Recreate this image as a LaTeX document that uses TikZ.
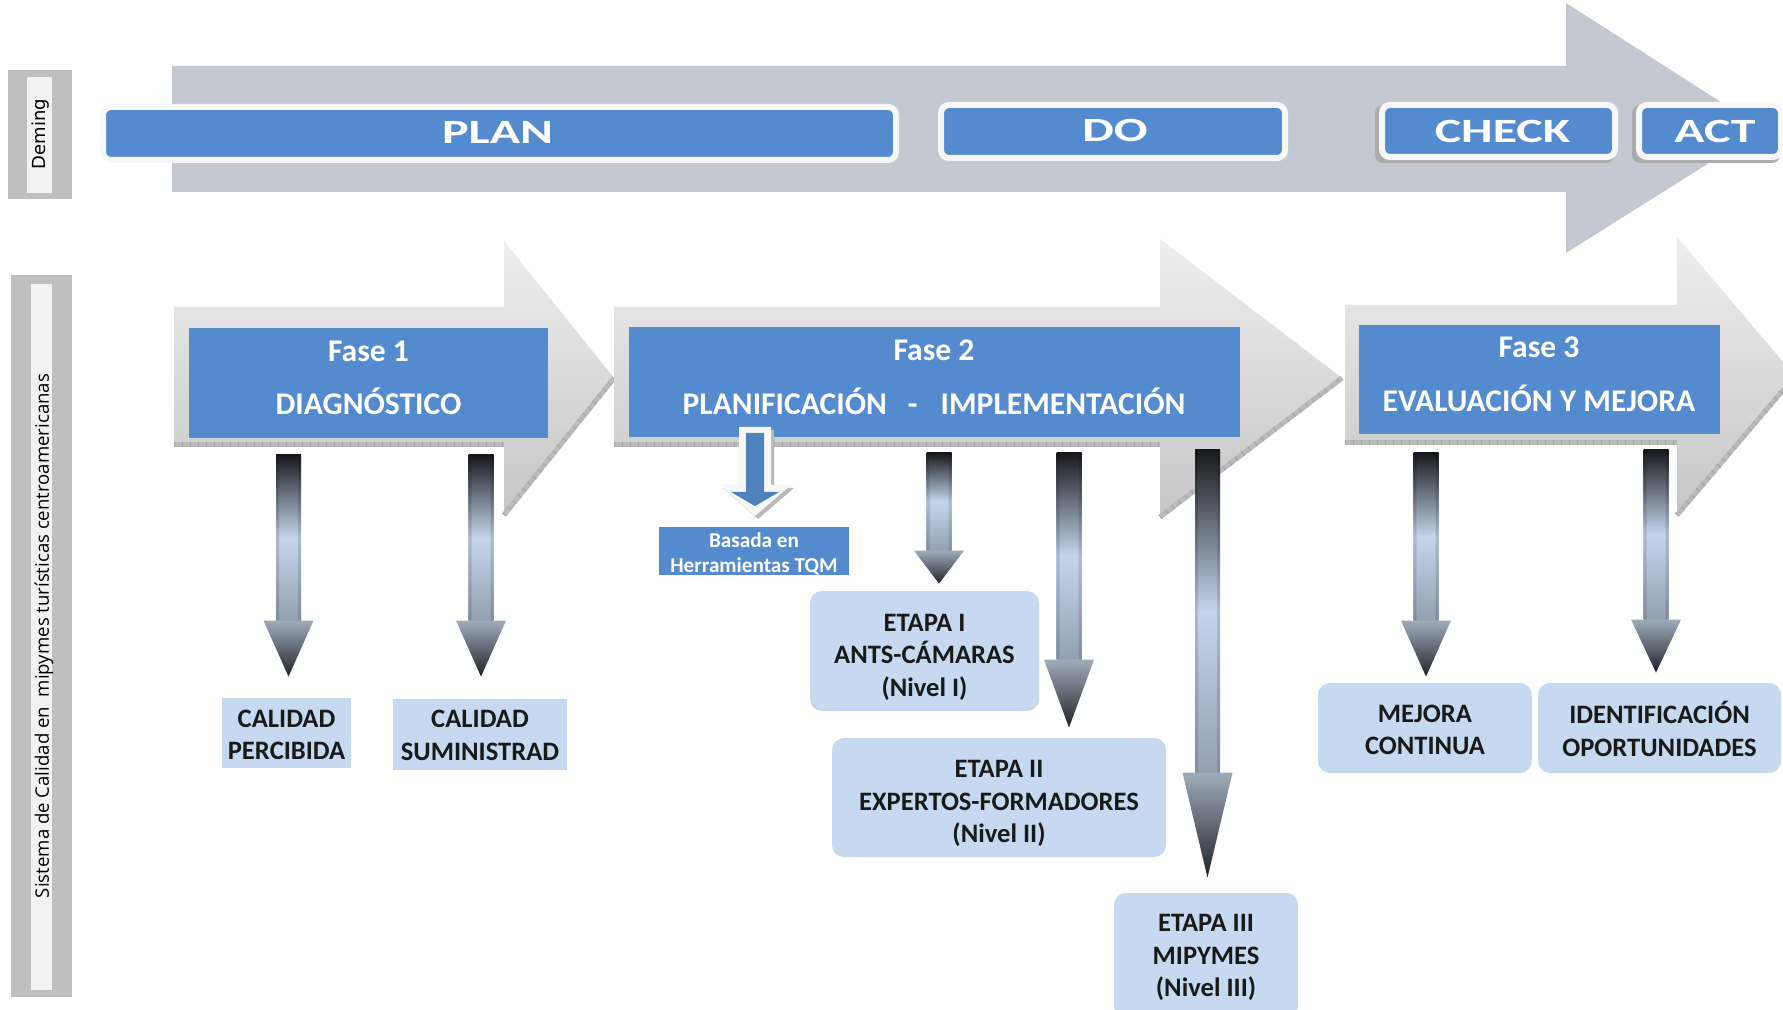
\documentclass[tikz,border=0pt]{standalone}
\usepackage{fontspec}
\setmainfont{Carlito}
\newfontfamily\sidefont{Open Sans}
\newfontfamily\demingfont{DejaVu Sans}
\usetikzlibrary{calc,fit}

\definecolor{pdcablue}{RGB}{84,139,207}
\definecolor{lightbox}{RGB}{198,217,241}
\definecolor{bandgray}{RGB}{196,200,208}
\definecolor{framewhite}{RGB}{247,247,247}
\definecolor{sidegray}{RGB}{191,191,191}
\definecolor{sidestrip}{RGB}{242,242,242}
\definecolor{tqmblue}{RGB}{79,129,189}
\definecolor{shafttop}{RGB}{24,25,29}
\definecolor{shaftmid}{RGB}{196,213,236}
\definecolor{shaftbot}{RGB}{148,160,177}
\definecolor{headtop}{RGB}{160,171,186}
\definecolor{headtip}{RGB}{32,36,42}
\definecolor{phaselight}{RGB}{238,238,238}
\definecolor{phasedark}{RGB}{198,198,198}
\definecolor{hatch}{RGB}{186,186,186}

\tikzset{
  pdcabox/.style={fill=pdcablue, draw=framewhite, line width=3pt, rounded corners=4pt, inner sep=0pt},
  pdcatext/.style={text=white, inner sep=0pt, font=\fontsize{17}{20}\selectfont\bfseries},
  pdcashadow/.style={fill=gray!65, rounded corners=4pt},
  phasebox/.style={fill=pdcablue, inner sep=0pt},
  phasetext/.style={text=white, inner sep=0pt, anchor=base, font=\fontsize{15.8}{19}\selectfont\bfseries},
  resultbox/.style={fill=lightbox, inner sep=0pt},
  roundbox/.style={resultbox, rounded corners=6pt},
  resulttext/.style={inner sep=0pt, align=center, text=black!90,
    font=\fontsize{13.3}{16.2}\selectfont\bfseries},
  tqmbox/.style={fill=pdcablue, inner sep=0pt},
  tqmtext/.style={inner sep=0pt, align=center, text=white,
    font=\fontsize{10.6}{12.5}\selectfont\bfseries},
  sidelabel/.style={rotate=90, text=black, inner sep=0pt},
  hatchband/.style={draw=hatch, line width=2.5pt},
  hatchticks/.style={draw=gray!70, line width=2.5pt, dash pattern=on 0.5pt off 3.5pt},
  edgeshade/.style={fill=black, fill opacity=0.12},
}

% grey phase arrow: body x0..xh between top and bot, head up to the tip
\newcommand\phasearrow[8]{%
  \shade[top color=phaselight, bottom color=phasedark]
    (#1,#2) -- (#4,#2) -- (#4,#5) -- (#6,#7) -- (#4,#8) -- (#4,#3) -- (#1,#3) -- cycle;
  \draw[hatchband] (#1,#3-2) -- (#4,#3-2);
  \draw[hatchticks] (#1,#3-2) -- (#4,#3-2);
  \draw[hatchband] (#4,#8) -- (#6,#7);
  \draw[hatchticks] (#4,#8) -- (#6,#7);
}

% shaded downward block arrow from a start coordinate to a tip coordinate
\newcommand\blockdown[3]{%
  \shade[top color=shafttop, bottom color=shaftbot, middle color=shaftmid]
    let \p1=(#1), \p2=(#2) in (\x1-6.25pt,\y1) rectangle (\x1+6.25pt,\y2+#3*0.5pt);
  \fill[edgeshade] let \p1=(#1), \p2=(#2) in
    (\x1-6.25pt,\y1) rectangle (\x1-4.75pt,\y2+#3*0.5pt)
    (\x1+4.75pt,\y1) rectangle (\x1+6.25pt,\y2+#3*0.5pt);
  \shade[top color=headtop, bottom color=headtip]
    let \p1=(#1), \p2=(#2) in
    (\x1-12.5pt,\y2+#3*0.5pt) -- (\x1+12.5pt,\y2+#3*0.5pt) -- (\x1,\y2) -- cycle;
}

\begin{document}
\begin{tikzpicture}[x=0.5pt,y=-0.5pt]
\useasboundingbox (0,0) rectangle (1783,1010);
\clip (0,0) rectangle (1783,1010);
\fill[white] (0,0) rectangle (1783,1010);

% ---------- Deming row ----------
\fill[sidegray] (8,70) rectangle (72,199);
\fill[sidestrip] (27,77) rectangle (52,193);
\node[sidelabel, font=\demingfont\fontsize{9}{10}\selectfont] (deming) at (40.5,134) {Deming};

\fill[bandgray] (172,66) -- (1566,66) -- (1566,3) -- (1763,129) -- (1566,253)
  -- (1566,192) -- (172,192) -- cycle;

\fill[pdcashadow] (1375,105) rectangle (1614,163);
\fill[pdcashadow] (1632,105) rectangle (1780,163);

\node[pdcabox, fit={(103,107) (896,160)}] (plan) {};
\node[pdcabox, fit={(941,105) (1285,158)}] (do) {};
\node[pdcabox, fit={(1382,105) (1615,157)}] (check) {};
\node[pdcabox, fit={(1639,105) (1781,157)}] (act) {};
\node[pdcatext] at ($(plan.center)+(-2,-1)$) {\scalebox{1.47}[1]{PLAN}};
\node[pdcatext] at ($(do.center)+(2,-1)$) {\scalebox{1.47}[1]{DO}};
\node[pdcatext] at ($(check.center)+(4,0)$) {\scalebox{1.47}[1]{CHECK}};
\node[pdcatext] at ($(act.center)+(5,0)$) {\scalebox{1.47}[1]{ACT}};

% ---------- quality system row ----------
\fill[sidegray] (11,275) rectangle (72,997);
\fill[sidestrip] (31,284) rectangle (52,990);
\node[sidelabel, font=\sidefont\fontsize{9.3}{11}\selectfont] (sistema) at (44,636)
  {Sistema de Calidad en\ \ mipymes turísticas centroamericanas};

\phasearrow{174}{307}{447}{504}{241}{614}{378}{515}
\phasearrow{614}{307}{447}{1160}{239}{1342}{378}{517}
\phasearrow{1345}{305}{445}{1677}{237}{1795}{376}{515}

\node[phasebox, fit={(189,328) (548,438)}] (f1) {};
\node[phasebox, fit={(629,327) (1240,437)}] (f2) {};
\node[phasebox, fit={(1359,325) (1720,434)}] (f3) {};

\node[phasetext] (f1a) at (368.5,362) {Fase 1};
\node[phasetext] (f1b) at (368.5,415) {DIAGNÓSTICO};
\node[phasetext] (f2a) at (934,361) {Fase 2};
\node[phasetext] (f2b) at (934,415) {PLANIFICACIÓN\hspace{10.5pt}-\hspace{11.5pt}IMPLEMENTACIÓN};
\node[phasetext] (f3a) at (1539,358) {Fase 3};
\node[phasetext] (f3b) at (1539,412) {EVALUACIÓN Y MEJORA};

% TQM arrow below phase 2
\fill[gray!55, shift={(3,3)}] (739,427) -- (771,427) -- (771,485) -- (791,485) -- (755,516)
  -- (720,485) -- (739,485) -- cycle;
\fill[framewhite] (739,427) -- (771,427) -- (771,485) -- (791,485) -- (755,516)
  -- (720,485) -- (739,485) -- cycle;
\fill[tqmblue] (746,433) -- (764,433) -- (764,492) -- (779,492) -- (755,506)
  -- (731,492) -- (746,492) -- cycle;
\node[tqmbox, fit={(659,527) (849,575)}] (tqm) {};
\node[tqmtext] at ($(tqm.center)+(0,3)$) {Basada en\\Herramientas TQM};

% result boxes
\node[resultbox, fit={(222,698) (351,768)}] (cp) {};
\node[resultbox, fit={(393,699) (567,770)}] (cs) {};
\node[roundbox, fit={(810,591) (1039,711)}] (e1) {};
\node[roundbox, fit={(832,738) (1166,857)}] (e2) {};
\node[roundbox, fit={(1114,893) (1298,1018)}] (e3) {};
\node[roundbox, fit={(1318,683) (1532,773)}] (mc) {};
\node[roundbox, fit={(1538,683) (1781,773)}] (io) {};

\node[resulttext] at ($(cp.center)+(0,2)$) {CALIDAD\\PERCIBIDA};
\node[resulttext] at ($(cs.center)+(0,1)$) {CALIDAD\\SUMINISTRAD};
\node[resulttext] at ($(e1.center)+(0,6)$) {ETAPA I\\ANTS-CÁMARAS\\(Nivel I)};
\node[resulttext] at ($(e2.center)+(0,6)$) {ETAPA II\\EXPERTOS-FORMADORES\\(Nivel II)};
\node[resulttext] at ($(e3.center)+(0,2)$) {ETAPA III\\MIPYMES\\(Nivel III)};
\node[resulttext] at ($(mc.center)+(0,2)$) {MEJORA\\CONTINUA};
\node[resulttext] at ($(io.center)+(0,1)$) {IDENTIFICACIÓN\\OPORTUNIDADES};

% connectors
\coordinate (a1s) at (288.5,455);
\coordinate (a1e) at ($(cp.north -| a1s)+(0,-21)$);
\coordinate (a2s) at (481,455);
\coordinate (a2e) at ($(cs.north -| a2s)+(0,-22)$);
\coordinate (a3s) at (939,453);
\coordinate (a3e) at ($(e1.north -| a3s)+(0,-7)$);
\coordinate (a4s) at (1069,453);
\coordinate (a4e) at ($(e2.north -| a4s)+(0,-10)$);
\coordinate (a5s) at (1207.5,450);
\coordinate (a5e) at ($(e3.north -| a5s)+(0,-15)$);
\coordinate (a6s) at (1426,453);
\coordinate (a6e) at ($(mc.north -| a6s)+(0,-6)$);
\coordinate (a7s) at (1656,450);
\coordinate (a7e) at ($(io.north -| a7s)+(0,-10)$);

\blockdown{a1s}{a1e}{56}
\blockdown{a2s}{a2e}{56}
\blockdown{a3s}{a3e}{33}
\blockdown{a4s}{a4e}{68}
\blockdown{a5s}{a5e}{105}
\blockdown{a6s}{a6e}{56}
\blockdown{a7s}{a7e}{53}
\end{tikzpicture}
\end{document}
